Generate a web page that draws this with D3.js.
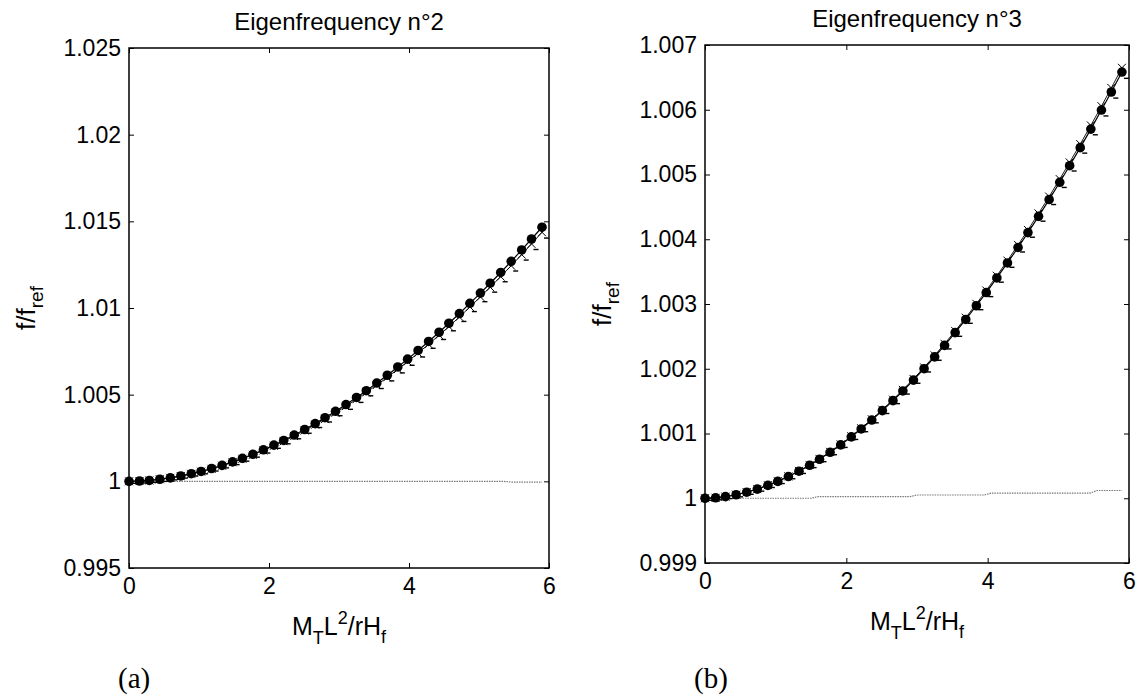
<!DOCTYPE html>
<html lang="en">
<head>
    <meta charset="UTF-8">
    <title>Eigenfrequency n°2 / n°3</title>
    <script src="https://d3js.org/d3.v7.min.js"></script>
    <style>
        body { margin: 0; background: #fff; }
        text { font-family: Arial, "Liberation Sans", sans-serif; fill: #000; }
        .tick line { stroke: #000; stroke-width: 1; }
        .panel-tag { font-family: "Times New Roman", "Liberation Serif", serif; }
    </style>
</head>
<body>
<svg width="1142" height="697"></svg>
<script>
// x values (M_T L^2 / r H_f), same for both panels
const xVals = [0, 0.15, 0.29, 0.44, 0.59, 0.74, 0.89, 1.03, 1.18, 1.33, 1.48, 1.62, 1.77, 1.92, 2.07,
    2.21, 2.36, 2.51, 2.66, 2.80, 2.95, 3.10, 3.25, 3.39, 3.54, 3.69, 3.84, 3.98, 4.13, 4.28,
    4.43, 4.57, 4.72, 4.87, 5.02, 5.16, 5.31, 5.46, 5.61, 5.75, 5.90];
const xTicks = [0, 2, 4, 6];

// panel (a) - eigenfrequency n°2
const dotsA = [1.00000, 1.00002, 1.00005, 1.00012, 1.00020, 1.00031, 1.00044, 1.00057, 1.00074, 1.00092,
    1.00112, 1.00133, 1.00156, 1.00182, 1.00209, 1.00236, 1.00267, 1.00299, 1.00333, 1.00367,
    1.00404, 1.00443, 1.00484, 1.00523, 1.00567, 1.00612, 1.00660, 1.00705, 1.00755, 1.00807,
    1.00860, 1.00912, 1.00968, 1.01027, 1.01086, 1.01143, 1.01205, 1.01269, 1.01335, 1.01398, 1.01466];
const crossA = [1.00000, 1.00002, 1.00005, 1.00012, 1.00020, 1.00030, 1.00043, 1.00056, 1.00072, 1.00090,
    1.00110, 1.00130, 1.00153, 1.00178, 1.00205, 1.00231, 1.00261, 1.00293, 1.00327, 1.00359,
    1.00396, 1.00434, 1.00474, 1.00513, 1.00556, 1.00600, 1.00647, 1.00691, 1.00740, 1.00791,
    1.00843, 1.00893, 1.00948, 1.01006, 1.01064, 1.01120, 1.01181, 1.01244, 1.01308, 1.01370, 1.01437];
const dashA = [1.00000, 1.00002, 1.00005, 1.00011, 1.00020, 1.00030, 1.00042, 1.00055, 1.00071, 1.00089,
    1.00108, 1.00128, 1.00151, 1.00175, 1.00202, 1.00228, 1.00257, 1.00289, 1.00322, 1.00354,
    1.00390, 1.00427, 1.00467, 1.00505, 1.00547, 1.00591, 1.00637, 1.00681, 1.00729, 1.00779,
    1.00830, 1.00880, 1.00934, 1.00991, 1.01048, 1.01103, 1.01163, 1.01225, 1.01288, 1.01349, 1.01415];
const flatXA = [0, 5.35, 5.45, 5.90];
const flatA = [1.00000, 1.00000, 0.99996, 0.99996];
const yTicksA = [0.995, 1, 1.005, 1.01, 1.015, 1.02, 1.025];

// panel (b) - eigenfrequency n°3
const dotsB = [1.000000, 1.000007, 1.000025, 1.000054, 1.000093, 1.000141, 1.000199, 1.000261, 1.000335, 1.000418,
    1.000509, 1.000602, 1.000710, 1.000824, 1.000948, 1.001070, 1.001208, 1.001354, 1.001507, 1.001657,
    1.001825, 1.002001, 1.002184, 1.002361, 1.002558, 1.002761, 1.002973, 1.003177, 1.003402, 1.003634,
    1.003873, 1.004103, 1.004354, 1.004613, 1.004880, 1.005136, 1.005415, 1.005701, 1.005995, 1.006274, 1.006582];
const crossB = [1.000000, 1.000007, 1.000025, 1.000055, 1.000094, 1.000142, 1.000201, 1.000264, 1.000338, 1.000422,
    1.000514, 1.000608, 1.000717, 1.000832, 1.000957, 1.001081, 1.001220, 1.001368, 1.001522, 1.001674,
    1.001843, 1.002021, 1.002206, 1.002385, 1.002584, 1.002789, 1.003003, 1.003209, 1.003436, 1.003670,
    1.003912, 1.004144, 1.004398, 1.004659, 1.004929, 1.005187, 1.005469, 1.005758, 1.006055, 1.006337, 1.006648];
const dashB = [1.000000, 1.000007, 1.000025, 1.000053, 1.000092, 1.000140, 1.000197, 1.000258, 1.000332, 1.000414,
    1.000504, 1.000596, 1.000703, 1.000816, 1.000939, 1.001059, 1.001196, 1.001340, 1.001492, 1.001640,
    1.001807, 1.001981, 1.002162, 1.002337, 1.002532, 1.002733, 1.002943, 1.003145, 1.003368, 1.003598,
    1.003834, 1.004062, 1.004310, 1.004567, 1.004831, 1.005085, 1.005361, 1.005644, 1.005935, 1.006211, 1.006516];
const flatXB = [0, 1.50, 1.60, 2.90, 3.00, 3.95, 4.05, 5.45, 5.55, 5.90];
const flatB = [1.000000, 1.000000, 1.000025, 1.000025, 1.000050, 1.000050, 1.000080, 1.000080, 1.000120, 1.000120];
const yTicksB = [0.999, 1, 1.001, 1.002, 1.003, 1.004, 1.005, 1.006, 1.007];

const svg = d3.select("svg");

function drawPanel(p) {
    const g = svg.append("g");
    const x = d3.scaleLinear().domain([0, 6]).range([p.left, p.right]);
    const y = d3.scaleLinear().domain(p.yDomain).range([p.bottom, p.top]);
    const fmt = d => String(+d.toFixed(4));

    // axes, MATLAB style: ticks pointing inward on all four sides
    g.append("g").attr("transform", `translate(0,${p.bottom})`)
        .call(d3.axisBottom(x).tickValues(xTicks).tickSize(-5).tickPadding(10).tickFormat(fmt));
    g.append("g").attr("transform", `translate(0,${p.top})`)
        .call(d3.axisTop(x).tickValues(xTicks).tickSize(-5).tickFormat(""));
    g.append("g").attr("transform", `translate(${p.left},0)`)
        .call(d3.axisLeft(y).tickValues(p.yTicks).tickSize(-5).tickPadding(8).tickFormat(fmt));
    g.append("g").attr("transform", `translate(${p.right},0)`)
        .call(d3.axisRight(y).tickValues(p.yTicks).tickSize(-5).tickFormat(""));
    g.selectAll(".domain").remove();
    g.selectAll(".tick text")
        .attr("font-family", "Arial, 'Liberation Sans', sans-serif")
        .attr("font-size", 23);

    g.append("rect")
        .attr("x", p.left).attr("y", p.top)
        .attr("width", p.right - p.left).attr("height", p.bottom - p.top)
        .attr("fill", "none").attr("stroke", "#000").attr("stroke-width", 1.5);

    const line = d3.line().x(d => x(d[0])).y(d => y(d[1]));

    // flat reference curve
    g.append("path")
        .datum(p.flatX.map((v, i) => [v, p.flat[i]]))
        .attr("d", line)
        .attr("fill", "none").attr("stroke", "#777").attr("stroke-width", 1.2)
        .attr("stroke-dasharray", "1.5,1");

    const cross = xVals.map((v, i) => [v, p.cross[i]]);
    const dots = xVals.map((v, i) => [v, p.dots[i]]);
    const dash = xVals.map((v, i) => [v, p.dash[i]]);

    g.append("path").datum(cross).attr("d", line)
        .attr("fill", "none").attr("stroke", "#000").attr("stroke-width", 0.9);
    g.append("path").datum(dots).attr("d", line)
        .attr("fill", "none").attr("stroke", "#000").attr("stroke-width", 1.2);

    // short horizontal dash markers
    g.selectAll(".dash").data(dash).enter().append("path")
        .attr("class", "dash")
        .attr("d", d => `M${x(d[0]) + 2},${y(d[1]) + 2}h5`)
        .attr("stroke", "#000").attr("stroke-width", 1.4);

    // x markers
    g.selectAll(".cross").data(cross).enter().append("path")
        .attr("class", "cross")
        .attr("d", d => {
            const cx = x(d[0]), cy = y(d[1]), s = 4;
            return `M${cx - s},${cy - s}L${cx + s},${cy + s}M${cx - s},${cy + s}L${cx + s},${cy - s}`;
        })
        .attr("stroke", "#000").attr("stroke-width", 1);

    // filled dots
    g.selectAll(".dot").data(dots).enter().append("circle")
        .attr("class", "dot")
        .attr("cx", d => x(d[0])).attr("cy", d => y(d[1]))
        .attr("r", 4.8).attr("fill", "#000");

    const mid = (p.left + p.right) / 2;

    // title
    g.append("text")
        .attr("x", mid).attr("y", p.top - 18)
        .attr("text-anchor", "middle").attr("font-size", 24)
        .text(p.title);

    // x label M_T L^2 / r H_f
    const xl = g.append("text")
        .attr("x", mid).attr("y", p.bottom + 67)
        .attr("text-anchor", "middle").attr("font-size", 25);
    xl.append("tspan").text("M");
    xl.append("tspan").attr("font-size", 18).attr("dy", 9).text("T");
    xl.append("tspan").attr("dy", -9).text("L");
    xl.append("tspan").attr("font-size", 18).attr("dy", -11).text("2");
    xl.append("tspan").attr("dy", 11).text("/rH");
    xl.append("tspan").attr("font-size", 18).attr("dy", 8).text("f");

    // y label f/f_ref
    const yl = g.append("text")
        .attr("transform", `translate(${p.left - 94},${(p.top + p.bottom) / 2}) rotate(-90)`)
        .attr("text-anchor", "middle").attr("font-size", 26);
    yl.append("tspan").text("f/f");
    yl.append("tspan").attr("font-size", 19).attr("dy", 8).text("ref");

    g.append("text").attr("class", "panel-tag")
        .attr("x", p.left - 11).attr("y", 688).attr("font-size", 29)
        .text(p.tag);
}

drawPanel({
    left: 129, right: 549, top: 48, bottom: 568,
    yDomain: [0.995, 1.025], yTicks: yTicksA,
    dots: dotsA, cross: crossA, dash: dashA, flatX: flatXA, flat: flatA,
    title: "Eigenfrequency n°2", tag: "(a)"
});
drawPanel({
    left: 705, right: 1129, top: 45, bottom: 563,
    yDomain: [0.999, 1.007], yTicks: yTicksB,
    dots: dotsB, cross: crossB, dash: dashB, flatX: flatXB, flat: flatB,
    title: "Eigenfrequency n°3", tag: "(b)"
});
</script>
</body>
</html>
